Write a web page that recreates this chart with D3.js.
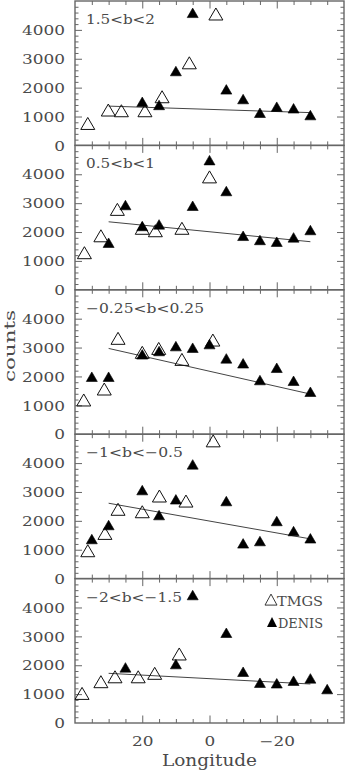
<!DOCTYPE html>
<html>
<head>
<meta charset="utf-8">
<script src="https://cdn.jsdelivr.net/npm/d3@7/dist/d3.min.js"></script>
<style>
  html, body { margin: 0; padding: 0; background: #fff; }
  svg { display: block; }
</style>
</head>
<body>
<script>
// ---------- data ----------
const panelLabels = ["1.5<b<2", "0.5<b<1", "\u22120.25<b<0.25", "\u22121<b<\u22120.5", "\u22122<b<\u22121.5"];

const tmgsLon = [
  [36.2, 30.1, 26.2, 19.2, 14.1, 6.0, -1.9],
  [37.2, 32.3, 27.4, 20.0, 16.1, 8.2, 0.0],
  [37.4, 31.3, 27.2, 20.0, 15.1, 8.2, -1.0],
  [36.2, 31.1, 27.2, 20.0, 14.9, 7.0, -1.1],
  [37.9, 32.3, 28.1, 21.2, 16.3, 9.0]
];
const tmgsCounts = [
  [760, 1225, 1200, 1200, 1685, 2860, 4550],
  [1285, 1870, 2785, 2130, 2045, 2130, 3910],
  [1185, 1565, 3320, 2835, 2970, 2590, 3260],
  [965, 1565, 2400, 2315, 2860, 2685, 4770],
  [1025, 1430, 1600, 1600, 1720, 2390]
];

const denisLon = [
  [20, 15, 10, 5, -5, -10, -15, -20, -25, -30],
  [30, 25, 20, 15, 5, 0, -5, -10, -15, -20, -25, -30],
  [35, 30, 20, 15, 10, 5, 0, -5, -10, -15, -20, -25, -30],
  [35, 30, 20, 15, 10, 5, -5, -10, -15, -20, -25, -30],
  [25, 10, 5, -5, -10, -15, -20, -25, -30, -35]
];
const denisCounts = [
  [1510, 1400, 2575, 4590, 1940, 1605, 1130, 1340, 1285, 1050],
  [1630, 2935, 2210, 2265, 2910, 4490, 3420, 1870, 1725, 1665, 1815, 2070],
  [1990, 1990, 2765, 2880, 3050, 2995, 3120, 2625, 2455, 1875, 2300, 1850, 1470],
  [1370, 1855, 3065, 2200, 2745, 3955, 2685, 1220, 1300, 1995, 1645, 1395],
  [1925, 2040, 4430, 3125, 1775, 1395, 1375, 1465, 1545, 1175]
];

const fitLon = [30, -30];
const fitCounts = [
  [1360, 1135],
  [2355, 1665],
  [2970, 1390],
  [2610, 1375],
  [1720, 1350]
];

const xTickLabels = [20, 0, -20];
const yTickLabels = [0, 1000, 2000, 3000, 4000];
const legendLabels = ["TMGS", "DENIS"];

// ---------- layout ----------
const W = 345, H = 772;
const L = 75, R = 344;
const top0 = 1, PH = 144.4;
const FONT = "DejaVu Serif";
const TXT = "#4a4a4a";
const AX = "#666";

const svg = d3.select("body").append("svg")
  .attr("width", W).attr("height", H)
  .attr("viewBox", `0 0 ${W} ${H}`);

const x = d3.scaleLinear().domain([40, -40]).range([L, R]);

const fmt = v => (v < 0 ? "\u2212" + Math.abs(v) : String(v));

const tri = (w, h) => `M${-w/2},${h/2}L${w/2},${h/2}L0,${-h/2}Z`;

const xMajor = [20, 0, -20];
const xMinor = d3.range(-35, 40, 5).filter(v => v % 20 !== 0);
const yMajor = [1000, 2000, 3000, 4000];
const yMinor = d3.range(200, 5000, 200).filter(v => v % 1000 !== 0);

panelLabels.forEach((lab, i) => {
  const top = top0 + i * PH;
  const bot = top + PH;
  const y = d3.scaleLinear().domain([0, 5000]).range([bot, top]);
  const g = svg.append("g");

  // ticks (inward, all four sides)
  const mk = (axisFn, scale, vals, size, tr) => {
    const a = g.append("g").attr("transform", tr).attr("color", AX)
      .call(axisFn(scale).tickValues(vals).tickSize(size).tickFormat(""));
    a.select(".domain").remove();
    a.selectAll("line").attr("stroke-width", 1);
    return a;
  };
  mk(d3.axisBottom, x, xMajor, -7.5, `translate(0,${bot})`);
  mk(d3.axisBottom, x, xMinor, -4, `translate(0,${bot})`);
  mk(d3.axisTop, x, xMajor, -7.5, `translate(0,${top})`);
  mk(d3.axisTop, x, xMinor, -4, `translate(0,${top})`);
  mk(d3.axisLeft, y, yMajor, -7, `translate(${L},0)`);
  mk(d3.axisLeft, y, yMinor, -3.5, `translate(${L},0)`);
  mk(d3.axisRight, y, yMajor, -7, `translate(${R},0)`);
  mk(d3.axisRight, y, yMinor, -3.5, `translate(${R},0)`);

  // y tick labels
  const yl = g.append("g").attr("transform", `translate(${L},0)`)
    .call(d3.axisLeft(y).tickValues(yTickLabels).tickSize(0).tickFormat(fmt));
  yl.select(".domain").remove();
  yl.selectAll("text")
    .attr("font-family", FONT).attr("font-size", 13).attr("fill", TXT)
    .attr("x", -10 / 1.3).attr("dy", "0.36em")
    .attr("transform", "scale(1.3,1)");

  // frame
  g.append("rect").attr("x", L).attr("y", top).attr("width", R - L).attr("height", PH)
    .attr("fill", "none").attr("stroke", AX).attr("stroke-width", 1.4);

  // fit line
  const line = d3.line().x(d => x(d[0])).y(d => y(d[1]));
  g.append("path")
    .datum(fitLon.map((lv, k) => [lv, fitCounts[i][k]]))
    .attr("d", line).attr("fill", "none").attr("stroke", "#444").attr("stroke-width", 1);

  // TMGS open triangles
  g.append("g").selectAll("path")
    .data(tmgsLon[i].map((lv, k) => [lv, tmgsCounts[i][k]]))
    .join("path")
    .attr("transform", d => `translate(${x(d[0])},${y(d[1])})`)
    .attr("d", tri(14, 12))
    .attr("fill", "none").attr("stroke", "#111").attr("stroke-width", 1);

  // DENIS filled triangles
  g.append("g").selectAll("path")
    .data(denisLon[i].map((lv, k) => [lv, denisCounts[i][k]]))
    .join("path")
    .attr("transform", d => `translate(${x(d[0])},${y(d[1])})`)
    .attr("d", tri(11, 9.5))
    .attr("fill", "#000").attr("stroke", "#000").attr("stroke-width", 0.6);

  // panel label
  const lw = [69, 69, 118, 97, 96][i];
  g.append("text").attr("x", 86).attr("y", top + 23)
    .attr("font-family", FONT).attr("font-size", 13).attr("fill", TXT)
    .attr("textLength", lw).attr("lengthAdjust", "spacingAndGlyphs")
    .text(lab);

  // legend in last panel
  if (i === 4) {
    g.append("path").attr("transform", `translate(271,${top + 21})`)
      .attr("d", tri(12, 11)).attr("fill", "none").attr("stroke", "#222").attr("stroke-width", 0.9);
    g.append("text").attr("x", 277).attr("y", top + 27)
      .attr("font-family", FONT).attr("font-size", 13).attr("fill", TXT)
      .attr("textLength", 46).attr("lengthAdjust", "spacingAndGlyphs")
      .text(legendLabels[0]);
    g.append("path").attr("transform", `translate(272,${top + 43.5})`)
      .attr("d", tri(10, 10)).attr("fill", "#000");
    g.append("text").attr("x", 278).attr("y", top + 49)
      .attr("font-family", FONT).attr("font-size", 13).attr("fill", TXT)
      .attr("textLength", 45).attr("lengthAdjust", "spacingAndGlyphs")
      .text(legendLabels[1]);
  }

  // x tick labels on bottom panel
  if (i === 4) {
    const xl = g.append("g").attr("transform", `translate(0,${bot})`)
      .call(d3.axisBottom(x).tickValues(xTickLabels).tickSize(0).tickFormat(fmt));
    xl.select(".domain").remove();
    xl.selectAll("text")
      .attr("font-family", FONT).attr("font-size", 13).attr("fill", TXT)
      .attr("y", 23.5).attr("dy", null)
      .attr("transform", "scale(1.3,1)");
  }
});

// axis titles
svg.append("text").attr("x", 209.5).attr("y", 766)
  .attr("text-anchor", "middle")
  .attr("font-family", FONT).attr("font-size", 16).attr("fill", TXT)
  .attr("textLength", 95).attr("lengthAdjust", "spacingAndGlyphs")
  .text("Longitude");

svg.append("text")
  .attr("transform", "translate(14.5,346) rotate(-90)")
  .attr("text-anchor", "middle")
  .attr("font-family", FONT).attr("font-size", 14.5).attr("fill", TXT)
  .attr("textLength", 72).attr("lengthAdjust", "spacingAndGlyphs")
  .text("counts");
</script>
</body>
</html>
